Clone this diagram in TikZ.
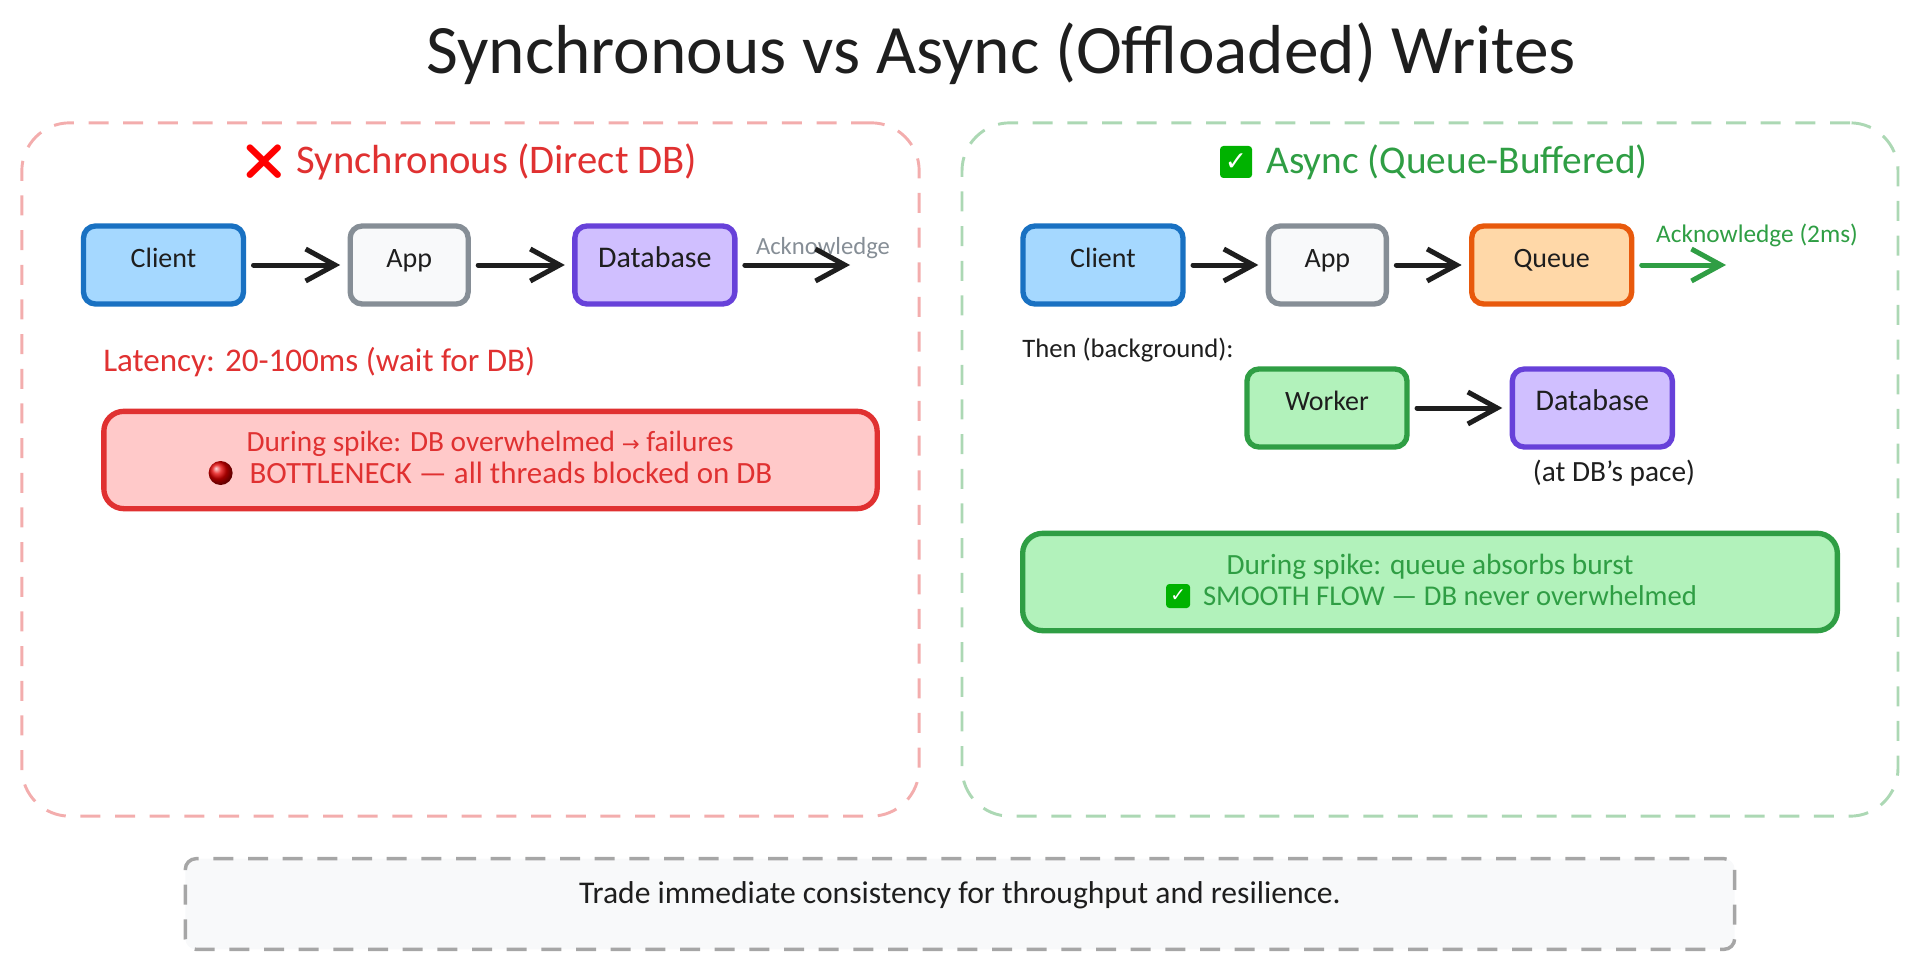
\documentclass[tikz,border=0pt]{standalone}
\usepackage{fontspec}
\setmainfont{Carlito}
\newfontfamily\emojifont{Noto Emoji}
\newfontfamily\dejavufont{DejaVu Sans}
\usepackage{xcolor}
\usetikzlibrary{positioning,arrows.meta}
\definecolor{inkblack}{HTML}{1E1E1E}
\definecolor{redink}{HTML}{E03131}
\definecolor{greenink}{HTML}{2F9E44}
\definecolor{grayink}{HTML}{868E96}
\definecolor{blueink}{HTML}{1971C2}
\definecolor{violetink}{HTML}{6741D9}
\definecolor{orangeink}{HTML}{E8590C}
\definecolor{bluefill}{HTML}{A5D8FF}
\definecolor{violetfill}{HTML}{D0BFFF}
\definecolor{orangefill}{HTML}{FFD8A8}
\definecolor{greenfill}{HTML}{B2F2BB}
\definecolor{redfill}{HTML}{FFC9C9}
\definecolor{grayfill}{HTML}{F8F9FA}

\begin{document}
\begin{tikzpicture}[
    x=0.75pt, y=-0.75pt,
    box/.style={rectangle, rounded corners=9pt, line width=4pt, outer sep=0pt, minimum width=120pt, minimum height=58.5pt, text height=10pt, text depth=7pt, text=inkblack, font=\fontsize{21}{25}\selectfont},
    clientbox/.style={box, draw=blueink, fill=bluefill},
    appbox/.style={box, minimum width=88.5pt, draw=grayink, fill=grayfill},
    dbbox/.style={box, draw=violetink, fill=violetfill, font=\fontsize{22.5}{27}\selectfont},
    queuebox/.style={box, draw=orangeink, fill=orangefill},
    workerbox/.style={box, draw=greenink, fill=greenfill},
    panel/.style={rectangle, rounded corners=36pt, line width=2.2pt, dash pattern=on 15pt off 11pt, minimum width=673pt, minimum height=520pt},
    note/.style={rectangle, rounded corners=15pt, line width=4pt, minimum height=73pt},
    heading/.style={font=\fontsize{30.5}{36}\selectfont},
    small/.style={font=\fontsize{19}{23}\selectfont},
    notetext/.style={font=\fontsize{22}{26}\selectfont},
    okmark/.style={rectangle, rounded corners=2.5pt, fill=green!70!black, text=white, inner sep=1pt},
    arrow/.style={-{Straight Barb[length=22pt,width=24pt]}, line width=3.75pt, line cap=round, shorten <=7.5pt, shorten >=7.5pt, draw=inkblack},
]
    \useasboundingbox (0,0) rectangle (1920,970);
    \node[font=\fontsize{52}{62}\selectfont, text=inkblack] (title) at (1001,54) {Synchronous vs Async (Offloaded) Writes};

    \node[panel, draw=redink!40] (syncpanel) at (470.5,469.5) {};
    \node[panel, draw=greenink!40, minimum width=702pt] (asyncpanel) at (1430,469.5) {};

    \node[heading, text=redink] (synctitle) at (497,162) {Synchronous (Direct DB)};
    \node[text=red, font=\emojifont\fontsize{26}{30}\selectfont, left=1pt of synctitle] (crossmark) {❌};
    \node[heading, text=greenink, font=\fontsize{29.5}{35}\selectfont] (asynctitle) at (1457,162) {Async (Queue-Buffered)};
    \node[okmark, left=7pt of asynctitle, font=\dejavufont\bfseries\fontsize{20}{22}\selectfont, minimum width=24pt, minimum height=24pt] (titlemark) {✓};

    \node[clientbox] (client) at (163.5,265) {Client};
    \node[appbox, right=80pt of client] (app) {App};
    \node[dbbox, right=80pt of app] (db) {Database};
    \coordinate (syncend) at (860,265);
    \node[small, text=grayink, font=\fontsize{18.5}{22}\selectfont] (syncack) at (823,248) {Acknowledge};

    \draw[arrow] (client) -- (app);
    \draw[arrow] (app) -- (db);
    \draw[arrow] (db) -- (syncend);

    \node[text=redink, font=\fontsize{24.8}{30}\selectfont, anchor=west, inner sep=0pt] (latency) at (103,362) {Latency: 20-100ms (wait for DB)};

    \node[note, draw=redink, fill=redfill, minimum width=580pt] (syncnote) at (490.5,460) {};
    \node[notetext, text=redink] (spikeline) at (490,444) {During spike: DB overwhelmed {\dejavufont\fontsize{16}{16}\selectfont →} failures};
    \node[notetext, text=redink, font=\fontsize{23.2}{28}\selectfont] (neckline) at (511,473) {BOTTLENECK — all threads blocked on DB};
    \node[circle, shading=ball, ball color=red!90!black, minimum size=18pt, inner sep=0pt, left=9pt of neckline] (redball) {};

    \node[clientbox] (aclient) at (1103,265) {Client};
    \node[appbox, right=64pt of aclient] (aapp) {App};
    \node[queuebox, right=64pt of aapp] (queue) {Queue};
    \coordinate (asyncend) at (1736,265);
    \node[small, text=greenink] (asyncack) at (1757,235) {Acknowledge (2ms)};

    \draw[arrow] (aclient) -- (aapp);
    \draw[arrow] (aapp) -- (queue);
    \draw[arrow, draw=greenink] (queue) -- (asyncend);

    \node[font=\fontsize{20}{24}\selectfont, text=inkblack, anchor=west, inner sep=0pt] (thenlabel) at (1022,350) {Then (background):};
    \node[workerbox] (worker) at (1327,408) {Worker};
    \node[dbbox, right=79pt of worker] (adb) {Database};
    \draw[arrow] (worker) -- (adb);
    \node[font=\fontsize{22}{26}\selectfont, text=inkblack] (pace) at (1614,473) {(at DB's pace)};

    \node[note, draw=greenink, fill=greenfill, minimum width=611pt] (asyncnote) at (1430,582) {};
    \node[notetext, text=greenink] (burstline) at (1430,567) {During spike: queue absorbs burst};
    \node[notetext, text=greenink, font=\fontsize{21.5}{26}\selectfont] (flowline) at (1450,596) {SMOOTH FLOW — DB never overwhelmed};
    \node[okmark, left=6pt of flowline, font=\dejavufont\bfseries\fontsize{14}{16}\selectfont, minimum width=18pt, minimum height=18pt] (flowmark) {✓};

    \node[rectangle, rounded corners=8pt, line width=2.6pt, draw=gray!70, fill=grayfill, dash pattern=on 15pt off 11pt, minimum width=1162pt, minimum height=68pt, font=\fontsize{23.7}{28}\selectfont, text=inkblack, text depth=11pt, text height=10pt] (summary) at (960,904) {Trade immediate consistency for throughput and resilience.};
\end{tikzpicture}
\end{document}
